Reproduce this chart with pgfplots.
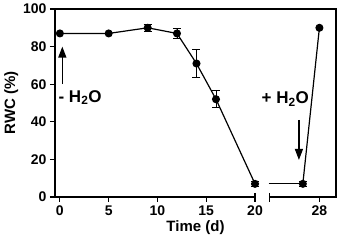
\documentclass[border=0pt]{standalone}
\usepackage{pgfplots}
\pgfplotsset{compat=1.18}
\usepackage{fontspec}
\setmainfont{Liberation Sans}
\usetikzlibrary{arrows.meta}
\begin{document}
\begin{tikzpicture}
% x after the break is plotted on a compressed scale: 26.6 is labelled 28
\begin{axis}[
    scale only axis,
    width=281pt, height=188pt,
    xmin=-0.5, xmax=28.3, ymin=0, ymax=100,
    axis line style={draw=none},
    clip=false,
    xtick={0,5,10,15,20,26.6},
    xticklabels={0,5,10,15,20,28},
    ytick={0,20,40,60,80,100},
    xtick pos=bottom, ytick pos=left,
    tick align=outside,
    major tick length=5pt,
    tick style={black, line width=1.2pt},
    /pgf/number format/assume math mode=true,
    ticklabel style={font=\bfseries\fontsize{14}{14}\selectfont},
    label style={font=\bfseries\fontsize{15}{15}\selectfont},
    xlabel={Time (d)},
    ylabel={RWC (\%)},
    xlabel style={yshift=2pt},
    ylabel style={yshift=-2pt},
]
\draw[line width=1.3pt] (axis cs:21.5,0) -- (rel axis cs:1,0) -- (rel axis cs:1,1) -- (rel axis cs:0,1) -- (rel axis cs:0,0) -- (axis cs:20,0);
\draw[line width=1.2pt] ([yshift=4pt]axis cs:20,0) -- ([yshift=-5pt]axis cs:20,0);
\draw[line width=1.2pt] ([yshift=4pt]axis cs:21.5,0) -- ([yshift=-5pt]axis cs:21.5,0);

% error bars
\addplot[draw=none, mark=none,
    error bars/.cd, y dir=both, y explicit,
    error bar style={black, line width=0.8pt},
    error mark options={rotate=90, mark size=4pt, black, line width=0.8pt}]
    table[x=x, y=y, y error=e] {
x y e
9 90 2
12 87 2.5
14 71 7.5
16 52 4.5
20 7 1.5
24.9 7 1.5
};

% drying phase
\addplot[black, line width=1.2pt, mark=*, mark size=3.4pt] table {
x y
0 87
5 87
9 90
12 87
14 71
16 52
20 7
};
% rewatering
\addplot[black, line width=1.2pt, mark=none] table {
x y
21.4 7
24.9 7
};
\addplot[black, line width=1.2pt, mark=*, mark size=3.4pt] table {
x y
24.9 7
26.6 90
};

\draw[line width=1.3pt, -{Triangle[width=8pt,length=11pt]}] (axis cs:0.25,60) -- (axis cs:0.25,80);
\node[anchor=west, inner sep=0pt, font=\bfseries\fontsize{17}{17}\selectfont] at (axis cs:-0.15,52.8) {- H\textsubscript{2}O};
\node[inner sep=0pt, font=\bfseries\fontsize{17}{17}\selectfont] at (axis cs:23.1,52) {+ H\textsubscript{2}O};
\draw[line width=1.3pt, -{Triangle[width=8pt,length=11pt]}] (axis cs:24.5,41) -- (axis cs:24.5,19.7);
\end{axis}
\path ([shift={(-55pt,-48pt)}]current axis.south west) rectangle ([shift={(4pt,9pt)}]current axis.north east);
\end{tikzpicture}
\end{document}
